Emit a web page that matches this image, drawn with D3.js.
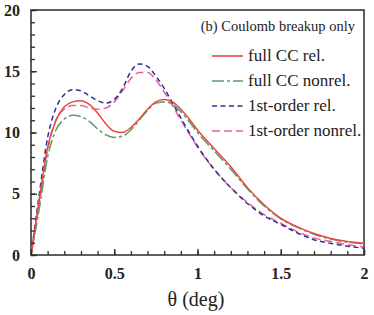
<!DOCTYPE html>
<html>
<head>
<meta charset="utf-8">
<script src="https://cdn.jsdelivr.net/npm/d3@7"></script>
</head>
<body style="margin:0; background:#fff">
<svg></svg>
<script>
let theta = [0, 0.05, 0.1, 0.15, 0.2, 0.25, 0.3, 0.35, 0.4, 0.45, 0.5, 0.55, 0.6, 0.65, 0.7, 0.75, 0.8, 0.85, 0.9, 0.95, 1.0,
             1.1, 1.2, 1.3, 1.4, 1.5, 1.6, 1.7, 1.8, 1.9, 2.0]

let fullRel    = [0, 4.6, 8.8, 11.0, 12.1, 12.5, 12.6, 12.3, 11.6, 10.7, 10.1, 10.0, 10.4, 11.1, 11.9, 12.5, 12.7, 12.5, 11.9, 11.1, 10.2,
                  8.7, 7.2, 5.5, 4.1, 3.0, 2.3, 1.75, 1.35, 1.1, 0.95]
let fullNonrel = [0, 3.8, 8.0, 10.2, 11.1, 11.4, 11.3, 10.9, 10.3, 9.8, 9.6, 9.7, 10.2, 11.0, 11.8, 12.4, 12.5, 12.3, 11.7, 10.9, 10.0,
                  8.5, 7.0, 5.4, 4.0, 2.95, 2.25, 1.7, 1.3, 1.05, 0.9]
let firstRel   = [0, 5.0, 9.6, 12.0, 13.1, 13.5, 13.4, 13.0, 12.6, 12.4, 12.7, 13.6, 15.0, 15.6, 15.4, 14.6, 13.6, 12.4, 11.2, 10.0, 8.9,
                  7.0, 5.5, 4.2, 3.2, 2.5, 1.8, 1.25, 0.95, 0.72, 0.55]
let firstNonrel= [0, 4.2, 8.6, 11.0, 11.9, 12.2, 12.2, 12.0, 11.9, 12.0, 12.5, 13.4, 14.4, 14.9, 14.9, 14.3, 13.3, 12.2, 11.0, 9.9, 8.8,
                  7.0, 5.5, 4.3, 3.3, 2.6, 1.9, 1.4, 1.1, 0.85, 0.65]

let xTicks = [0, 0.5, 1, 1.5, 2]
let yTicks = [0, 5, 10, 15, 20]
let xTickLabels = ["0", "0.5", "1", "1.5", "2"]
let yTickLabels = ["0", "5", "10", "15", "20"]

let seriesNames = ["full CC rel.", "full CC nonrel.", "1st-order rel.", "1st-order nonrel."]
let seriesValues = [fullRel, fullNonrel, firstRel, firstNonrel]
let colors = ["#e8473d", "#5e9a6c", "#2e3192", "#e4639f"]
let dashes = [null, "12,3,3,3", "5,3.5", "8,4"]

let width = 374
let height = 315
let padLeft = 31, padRight = 364, padTop = 10, padBottom = 255
let serif = "'Liberation Serif', 'Times New Roman', serif"

let svg = d3.select("svg").attr("width", width).attr("height", height)

let xScale = d3.scaleLinear().domain([0, 2]).range([padLeft, padRight])
let yScale = d3.scaleLinear().domain([0, 20]).range([padBottom, padTop])

// frame
svg.append("rect")
    .attr("x", padLeft).attr("y", padTop)
    .attr("width", padRight - padLeft).attr("height", padBottom - padTop)
    .attr("fill", "none").attr("stroke", "#2a2a2a").attr("stroke-width", 1.5)

// curves
svg.append("clipPath").attr("id", "clip")
    .append("rect").attr("x", padLeft).attr("y", padTop)
    .attr("width", padRight - padLeft).attr("height", padBottom - padTop)

let line = d3.line()
    .x(d => xScale(d[0]))
    .y(d => yScale(d[1]))
    .curve(d3.curveMonotoneX)

let order = [3, 2, 1, 0]
order.forEach(i => {
    svg.append("path")
        .datum(theta.map((t, j) => [t, seriesValues[i][j]]))
        .attr("d", line)
        .attr("fill", "none")
        .attr("stroke", colors[i])
        .attr("stroke-width", 1.5)
        .attr("stroke-dasharray", dashes[i])
        .attr("clip-path", "url(#clip)")
})

// axes with inward ticks
let xMinor = d3.range(0, 2.001, 0.1)
let yMinor = d3.range(0, 20.001, 1)

let xAxis = d3.axisBottom(xScale).tickValues(xMinor).tickSize(-4).tickFormat("")
svg.append("g").attr("transform", "translate(0," + padBottom + ")").call(xAxis)
let xAxisMajor = d3.axisBottom(xScale).tickValues(xTicks).tickSize(-6).tickPadding(13)
    .tickFormat((d, i) => xTickLabels[i])
svg.append("g").attr("class", "major").attr("transform", "translate(0," + padBottom + ")").call(xAxisMajor)

let yAxis = d3.axisLeft(yScale).tickValues(yMinor).tickSize(-4).tickFormat("")
svg.append("g").attr("transform", "translate(" + padLeft + ",0)").call(yAxis)
let yAxisMajor = d3.axisLeft(yScale).tickValues(yTicks).tickSize(-6).tickPadding(11)
    .tickFormat((d, i) => yTickLabels[i])
svg.append("g").attr("class", "major").attr("transform", "translate(" + padLeft + ",0)").call(yAxisMajor)

svg.selectAll(".domain").remove()
svg.selectAll(".tick line").attr("stroke", "#2a2a2a").attr("stroke-width", 1.3)
svg.selectAll(".major text")
    .style("font-family", serif)
    .style("font-size", "16px").style("font-weight", "bold").attr("fill", "#222")

svg.append("text")
    .attr("x", 196).attr("y", 306)
    .attr("text-anchor", "middle")
    .style("font-family", serif).style("font-size", "20px").attr("fill", "#222")
    .text("θ (deg)")

// legend
svg.append("text")
    .attr("x", 355).attr("y", 31)
    .attr("text-anchor", "end")
    .style("font-family", serif).style("font-size", "14.5px").attr("fill", "#222")
    .text("(b) Coulomb breakup only")

let legendY = [56, 81, 106, 131]
seriesNames.forEach((name, i) => {
    let g = svg.append("g").attr("transform", "translate(0," + legendY[i] + ")")
    g.append("line")
        .attr("x1", 212).attr("x2", 243).attr("y1", 0).attr("y2", 0)
        .attr("stroke", colors[i]).attr("stroke-width", 1.6)
        .attr("stroke-dasharray", dashes[i])
    g.append("text")
        .attr("x", 248).attr("y", 5)
        .style("font-family", serif).style("font-size", "17px").attr("fill", "#222")
        .text(name)
})
</script>
</body>
</html>
